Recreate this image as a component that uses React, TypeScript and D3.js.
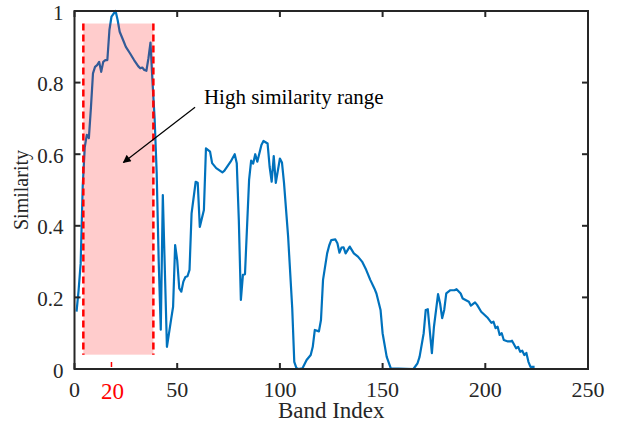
import React, { useRef, useEffect } from "react";
import * as d3 from "d3";

// band index / similarity
const bands = [
  1, 2, 3, 4, 5, 6, 7, 8, 9, 10, 11, 12, 13, 14, 15, 16, 17, 18, 20, 21, 22, 24,
  25, 27, 29, 31, 32, 33, 34, 35, 36, 37, 38, 39, 40, 41, 42, 43, 45, 47, 48, 49,
  50, 51, 52, 53, 54, 55, 56, 57, 59, 60, 61, 63, 64, 66, 67, 69, 72, 73, 76, 78,
  79, 80, 81, 82, 83, 85, 86, 87, 88, 89, 91, 92, 94, 95, 96, 97, 98, 100, 101,
  102, 104, 106, 107, 108, 109, 111, 113, 115, 116, 117, 119, 120, 121, 123, 124,
  125, 127, 128, 129, 130, 131, 132, 134, 136, 138, 140, 142, 144, 146, 147, 149,
  150, 152, 154, 165, 167, 168, 170, 171, 172, 174, 175, 177, 178, 179, 180, 181,
  183, 185, 186, 188, 189, 192, 193, 195, 196, 198, 201, 203, 204, 205, 206, 207,
  208, 209, 211, 212, 213, 215, 216, 217, 218, 219, 220, 221, 222, 224,
];
const similarity = [
  0.16, 0.22, 0.295, 0.51, 0.62, 0.654, 0.645, 0.73, 0.826, 0.844, 0.849, 0.858,
  0.83, 0.858, 0.863, 0.863, 0.947, 0.984, 1.0, 0.975, 0.942, 0.914, 0.9, 0.882,
  0.863, 0.846, 0.84, 0.842, 0.835, 0.833, 0.868, 0.912, 0.8, 0.7, 0.55, 0.3,
  0.11, 0.486, 0.062, 0.137, 0.174, 0.346, 0.304, 0.225, 0.216, 0.244, 0.257,
  0.259, 0.277, 0.435, 0.523, 0.52, 0.397, 0.444, 0.616, 0.607, 0.575, 0.561,
  0.549, 0.554, 0.579, 0.6, 0.575, 0.416, 0.193, 0.263, 0.265, 0.528, 0.582,
  0.574, 0.6, 0.579, 0.626, 0.637, 0.63, 0.565, 0.523, 0.595, 0.52, 0.588, 0.577,
  0.52, 0.37, 0.17, 0.02, 0.003, 0, 0.002, 0.025, 0.039, 0.062, 0.109, 0.105,
  0.137, 0.249, 0.323, 0.345, 0.36, 0.362, 0.351, 0.325, 0.339, 0.34, 0.323,
  0.342, 0.323, 0.314, 0.3, 0.277, 0.249, 0.225, 0.211, 0.165, 0.1, 0.034, 0.002,
  0, 0.016, 0.034, 0.1, 0.165, 0.167, 0.044, 0.118, 0.209, 0.183, 0.142, 0.165,
  0.211, 0.22, 0.22, 0.223, 0.211, 0.197, 0.188, 0.177, 0.186, 0.179, 0.16, 0.144,
  0.129, 0.132, 0.114, 0.118, 0.095, 0.1, 0.081, 0.077, 0.077, 0.079, 0.058,
  0.062, 0.048, 0.051, 0.039, 0.045, 0.02, 0.006, 0.006,
];

const xTicks = [0, 50, 100, 150, 200, 250];
const yTicks = [0, 0.2, 0.4, 0.6, 0.8, 1];
const highRange = [4.3, 38.4]; // band range
const highRangeY = [0.04, 0.965];
const markedBand = { value: 18, label: "20" };
const annotation = { text: "High similarity range", tx: 63, ty: 0.74, from: [58.7, 0.731], to: [23.8, 0.577] };

const W = 623;
const H = 424;
const margin = { top: 11, right: 35, bottom: 55, left: 74.5 };
const font = "'Liberation Serif', 'Times New Roman', serif";

const App = () => {
  const svgRef = useRef<SVGSVGElement>(null);

  useEffect(() => {
    const svg = d3.select(svgRef.current);
    svg.selectAll("*").remove();

    const x = d3.scaleLinear().domain([0, 250]).range([margin.left, W - margin.right]);
    const y = d3.scaleLinear().domain([0, 1]).range([H - margin.bottom, margin.top]);
    const [x0, x1] = x.range();
    const [y0, y1] = y.range();

    svg
      .append("defs")
      .append("marker")
      .attr("id", "arrowhead")
      .attr("viewBox", "0 0 10 10")
      .attr("refX", 9)
      .attr("refY", 5)
      .attr("markerWidth", 10)
      .attr("markerHeight", 8)
      .attr("markerUnits", "userSpaceOnUse")
      .attr("orient", "auto")
      .append("path")
      .attr("d", "M0,0 L10,5 L0,10 z")
      .attr("fill", "#000");

    const line = d3
      .line<number>()
      .x((_, i) => x(bands[i]))
      .y((d) => y(d));

    svg
      .append("path")
      .datum(similarity)
      .attr("d", line)
      .attr("fill", "none")
      .attr("stroke", "#0072BD")
      .attr("stroke-width", 2.2)
      .attr("stroke-linejoin", "round");

    // shaded range on top of the curve
    svg
      .append("rect")
      .attr("x", x(highRange[0]))
      .attr("y", y(highRangeY[1]))
      .attr("width", x(highRange[1]) - x(highRange[0]))
      .attr("height", y(highRangeY[0]) - y(highRangeY[1]))
      .attr("fill", "#ff0000")
      .attr("fill-opacity", 0.2);

    highRange.forEach((b) => {
      svg
        .append("line")
        .attr("x1", x(b))
        .attr("x2", x(b))
        .attr("y1", y(highRangeY[1]))
        .attr("y2", y(highRangeY[0]))
        .attr("stroke", "#ff0000")
        .attr("stroke-width", 2.5)
        .attr("stroke-dasharray", "7,4");
    });

    // box
    const axisColor = "#262626";
    svg
      .append("rect")
      .attr("x", x0)
      .attr("y", y1)
      .attr("width", x1 - x0)
      .attr("height", y0 - y1)
      .attr("fill", "none")
      .attr("stroke", axisColor)
      .attr("stroke-width", 2);

    const tl = 6;
    xTicks.forEach((t) => {
      svg.append("line").attr("x1", x(t)).attr("x2", x(t)).attr("y1", y0).attr("y2", y0 - tl).attr("stroke", axisColor).attr("stroke-width", 2);
      svg.append("line").attr("x1", x(t)).attr("x2", x(t)).attr("y1", y1).attr("y2", y1 + tl).attr("stroke", axisColor).attr("stroke-width", 2);
      svg
        .append("text")
        .attr("x", x(t))
        .attr("y", y0 + 28)
        .attr("text-anchor", "middle")
        .style("font-family", font)
        .style("font-size", "22px")
        .attr("fill", "#262626")
        .text(t);
    });
    yTicks.forEach((t) => {
      svg.append("line").attr("x1", x0).attr("x2", x0 + tl).attr("y1", y(t)).attr("y2", y(t)).attr("stroke", axisColor).attr("stroke-width", 2);
      svg.append("line").attr("x1", x1).attr("x2", x1 - tl).attr("y1", y(t)).attr("y2", y(t)).attr("stroke", axisColor).attr("stroke-width", 2);
      svg
        .append("text")
        .attr("x", x0 - 11)
        .attr("y", y(t) + 8.5)
        .attr("text-anchor", "end")
        .style("font-family", font)
        .style("font-size", "21px")
        .attr("fill", "#262626")
        .text(t);
    });

    // red marker tick
    svg
      .append("line")
      .attr("x1", x(markedBand.value))
      .attr("x2", x(markedBand.value))
      .attr("y1", y0 - 2)
      .attr("y2", y0 - 7)
      .attr("stroke", "#ff0000")
      .attr("stroke-width", 1.5);
    svg
      .append("text")
      .attr("x", x(markedBand.value) + 1)
      .attr("y", y0 + 30)
      .attr("text-anchor", "middle")
      .style("font-family", font)
      .style("font-size", "23px")
      .attr("fill", "#ff0000")
      .text(markedBand.label);

    svg
      .append("text")
      .attr("x", (x0 + x1) / 2)
      .attr("y", H - 6)
      .attr("text-anchor", "middle")
      .style("font-family", font)
      .style("font-size", "23px")
      .attr("fill", "#262626")
      .text("Band Index");

    svg
      .append("text")
      .attr("transform", `translate(28,${(y0 + y1) / 2}) rotate(-90)`)
      .attr("text-anchor", "middle")
      .style("font-family", font)
      .style("font-size", "20px")
      .attr("fill", "#262626")
      .text("Similarity");

    svg
      .append("line")
      .attr("x1", x(annotation.from[0]))
      .attr("y1", y(annotation.from[1]))
      .attr("x2", x(annotation.to[0]))
      .attr("y2", y(annotation.to[1]))
      .attr("stroke", "#000")
      .attr("stroke-width", 1.2)
      .attr("marker-end", "url(#arrowhead)");

    svg
      .append("text")
      .attr("x", x(annotation.tx))
      .attr("y", y(annotation.ty))
      .style("font-family", font)
      .style("font-size", "21px")
      .attr("fill", "#000")
      .text(annotation.text);
  }, []);

  return (
    <svg
      ref={svgRef}
      width={W}
      height={H}
      style={{ position: "absolute", left: 0, top: 0, background: "#fff" }}
    />
  );
};

export default App;
